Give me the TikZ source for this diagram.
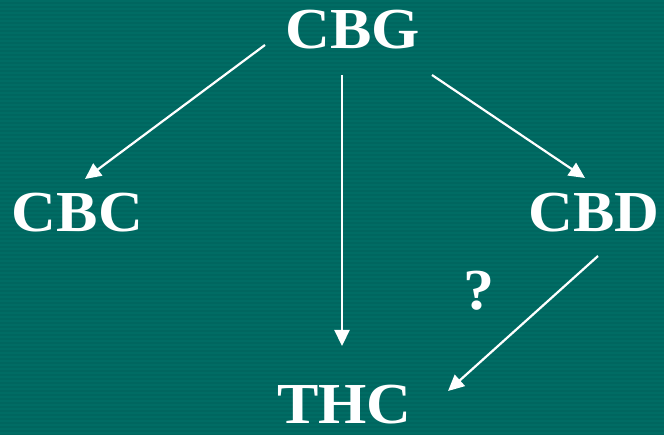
\documentclass[tikz,border=0pt]{standalone}
\usepackage{fontspec}
\setmainfont[FakeStretch=1.07]{Liberation Serif}
\usetikzlibrary{arrows.meta}
\definecolor{bgA}{RGB}{0,102,95}
\definecolor{bgB}{RGB}{0,108,100}
\tikzset{
  lbl/.style={font=\bfseries\fontsize{58}{64}\selectfont, text=white, anchor=base, inner sep=0pt},
  arr/.style={draw=white, line width=2.2pt, -{Triangle[length=16pt,width=15pt]}}
}
\begin{document}
\begin{tikzpicture}[x=1pt,y=-1pt]
\useasboundingbox (0,0) rectangle (664,435);
\fill[bgA] (0,0) rectangle (664,435);
\foreach \k in {0,4,...,432}{\fill[bgB] (0,\k) rectangle (664,\k+2);}
\node[lbl] (cbg) at (352.5,49) {CBG};
\node[lbl] (cbc) at (77.5,232) {CBC};
\node[lbl] (cbd) at (594,232) {CBD};
\node[lbl] (thc) at (344.5,424) {THC};
\node[lbl] (q) at (479.5,310) {?};
\draw[arr] ([shift={(-87.5,-4)}]cbg.base) -- ([shift={(7.5,-53)}]cbc.base);
\draw[arr] ([shift={(-10.5,26)}]cbg.base) -- ([shift={(-2.5,-78)}]thc.base);
\draw[arr] ([shift={(79.5,26)}]cbg.base) -- ([shift={(-9,-54)}]cbd.base);
\draw[arr] ([shift={(4,24)}]cbd.base) -- ([shift={(103.5,-33)}]thc.base);
\end{tikzpicture}
\end{document}
